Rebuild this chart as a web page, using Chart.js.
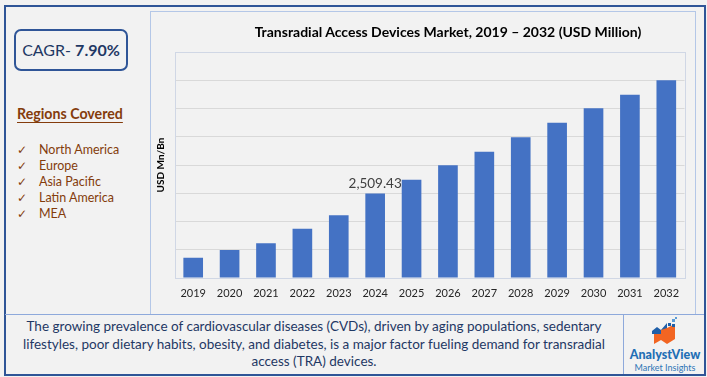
<!DOCTYPE html>
<html>
<head>
<meta charset="utf-8">
<script src="https://cdn.jsdelivr.net/npm/chart.js@4.4.1/dist/chart.umd.min.js"></script>
<style>
  html, body { margin: 0; padding: 0; }
  body { width: 707px; height: 377px; background: #F2F2F2; position: relative; overflow: hidden; font-family: Lato, "Open Sans", sans-serif; }
  #outer { position: absolute; left: 4px; top: 5px; width: 698px; height: 367px; border: 2px solid #2F5597; box-sizing: content-box; }
  #frame { position: absolute; left: 150px; top: 11px; width: 544px; height: 302px; border: 1px solid #B4C7E7; border-bottom: none; }
  #chartBox { position: absolute; left: 151px; top: 12px; width: 544px; height: 302px; }
  #title { position: absolute; left: 151px; width: 594px; top: 23px; text-align: center; font-weight: bold; font-size: 14px; color: #000; white-space: nowrap; }
  #sep { position: absolute; left: 5px; top: 314px; width: 699px; height: 0; border-top: 1px solid #8EA9DB; }
  #logoLine { position: absolute; left: 623px; top: 314px; width: 0; height: 60px; border-left: 1px solid #8EA9DB; }
  #cagr { position: absolute; left: 14px; top: 29px; width: 110px; height: 38px; border: 2px solid #2F5597; border-radius: 7px; color: #1F3864; font-size: 16px; line-height: 38px; text-align: center; white-space: nowrap; }
  #regionsHead { position: absolute; left: 17px; top: 105px; font-size: 14.2px; font-weight: bold; color: #843C0C; text-decoration: underline; text-underline-offset: 3px; white-space: nowrap; }
  .region { position: absolute; left: 17px; font-size: 12.5px; color: #843C0C; white-space: nowrap; }
  .region .tick { display: inline-block; width: 22px; font-family: "DejaVu Sans", sans-serif; font-size: 12px; }
  #note { position: absolute; left: 10px; width: 608px; top: 318px; text-align: center; color: #1F3864; font-size: 13.5px; line-height: 17.7px; }
  #logoText { position: absolute; left: 624px; width: 82px; top: 348px; text-align: center; color: #1F6FB5; }
  #logoText .a { font-weight: 900; font-size: 12.5px; line-height: 14px; }
  #logoText .b { font-size: 9px; line-height: 11px; color: #2E75B6; }
  #logoIcon { position: absolute; left: 650px; top: 317px; }
</style>
</head>
<body>
<div id="outer"></div>
<div id="frame"></div>
<div id="chartBox"><canvas id="chart_transradialMarket"></canvas></div>
<div id="title">Transradial Access Devices Market, 2019 – 2032 (USD Million)</div>

<div id="cagr">CAGR- <b>7.90%</b></div>
<div id="regionsHead">Regions Covered</div>
<div id="regions"></div>

<div id="sep"></div>
<div id="logoLine"></div>
<div id="note">The growing prevalence of cardiovascular diseases (CVDs), driven by aging populations, sedentary<br>lifestyles, poor dietary habits, obesity, and diabetes, is a major factor fueling demand for transradial<br>access (TRA) devices.</div>
<svg id="logoIcon" width="28" height="30" viewBox="0 0 28 30">
  <polygon points="2,14 7,10 11,13 17,6 17,17 2,17" fill="#1F5FA8"/>
  <polygon points="4,17 11,17 11,13 17,11 25,7 25,22 17,27 11,23 4,27" fill="#F26522"/>
  <rect x="18" y="6" width="3" height="3" fill="#1F5FA8"/>
  <rect x="22" y="2" width="3" height="3" fill="#5B9BD5"/>
  <rect x="22" y="7" width="3" height="3" fill="#1F5FA8"/>
  <rect x="25" y="0" width="2" height="2" fill="#5B9BD5"/>
</svg>
<div id="logoText"><div class="a">AnalystView</div><div class="b">Market Insights</div></div>

<script>
// chart data
var years = ['2019', '2020', '2021', '2022', '2023', '2024', '2025', '2026', '2027', '2028', '2029', '2030', '2031', '2032'];
var marketValues = [602, 831, 1032, 1462, 1863, 2509.43, 2924, 3354, 3756, 4186, 4616, 5046, 5447, 5877];
var labelledYear = '2024';
var yAxisMax = 6720;
var yAxisStep = 840;

var regionsCovered = ['North America', 'Europe', 'Asia Pacific', 'Latin America', 'MEA'];

// left panel list
var regionTops = [141.5, 157.5, 173.5, 189.5, 205.5];
var regionsDiv = document.getElementById('regions');
regionsCovered.forEach(function(name, i) {
    var d = document.createElement('div');
    d.className = 'region';
    d.style.top = regionTops[i] + 'px';
    d.innerHTML = '<span class="tick">\u2713</span>' + name;
    regionsDiv.appendChild(d);
});

var gridColor = '#D9D9D9';

var chart_transradialMarket = new Chart(document.getElementById('chart_transradialMarket'), {
    type: 'bar',
    data: {
        labels: years,
        datasets: [
            {
                label: 'Market size',
                data: marketValues,
                backgroundColor: '#4472C4',
                borderWidth: 0,
                categoryPercentage: 1,
                barPercentage: 0.54
            }
        ]
    },
    options: {
        animation: false,
        responsive: true,
        maintainAspectRatio: false,
        layout: {
            padding: { top: 40, right: 10.5, bottom: 4.8, left: 0 }
        },
        plugins: {
            legend: { display: false },
            title: { display: false },
            tooltip: { enabled: false }
        },
        scales: {
            x: {
                grid: { display: false, drawTicks: false },
                border: { display: true, color: '#D0D7E5' },
                ticks: {
                    padding: 9,
                    color: '#262626',
                    font: { family: 'Lato', size: 11 },
                    maxRotation: 0
                }
            },
            y: {
                min: 0,
                max: yAxisMax,
                title: {
                    display: true,
                    text: 'USD Mn/Bn',
                    color: '#000',
                    font: { family: 'Lato', size: 10, weight: 'bold', lineHeight: 1.2 },
                    padding: { top: 4, bottom: 8 }
                },
                ticks: { display: false, stepSize: yAxisStep },
                grid: { color: gridColor, drawTicks: false },
                border: { display: true, color: '#D0D7E5' }
            }
        }
    },
    plugins: [{
        id: 'plotBox',
        afterDraw: function(chart) {
            var a = chart.chartArea;
            var ctx = chart.ctx;
            ctx.save();
            ctx.strokeStyle = '#D0D7E5';
            ctx.lineWidth = 1;
            ctx.strokeRect(Math.round(a.left) + 0.5, Math.round(a.top) + 0.5, Math.round(a.right - a.left), Math.round(a.bottom - a.top));
            ctx.restore();
        }
    }, {
        id: 'valueLabel',
        afterDatasetsDraw: function(chart) {
            var i = years.indexOf(labelledYear);
            var bar = chart.getDatasetMeta(0).data[i];
            var ctx = chart.ctx;
            ctx.save();
            ctx.fillStyle = '#404040';
            ctx.font = '13.5px Lato';
            ctx.textAlign = 'center';
            ctx.textBaseline = 'middle';
            ctx.fillText(marketValues[i].toLocaleString('en-US', { minimumFractionDigits: 2 }), bar.x, bar.y - 10);
            ctx.restore();
        }
    }]
});
</script>
</body>
</html>
